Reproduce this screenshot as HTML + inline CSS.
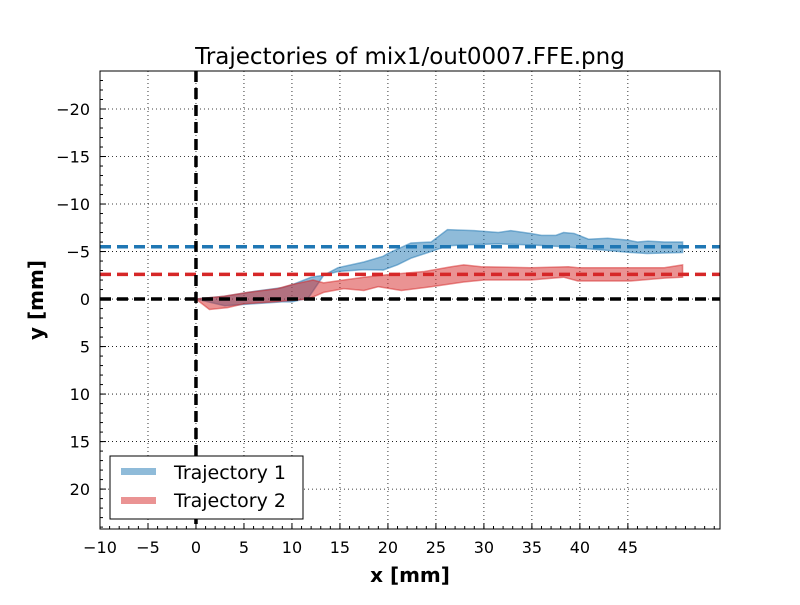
<!DOCTYPE html>
<html><head><meta charset="utf-8"><style>
body{margin:0;background:#fff;}
svg text{font-family:"DejaVu Sans","Liberation Sans",sans-serif;}
</style></head><body>
<svg id="chart" width="800" height="600" viewBox="0 0 800 600" xmlns="http://www.w3.org/2000/svg">
<rect width="800" height="600" fill="#fff"/>
<text x="410" y="64" font-size="23" text-anchor="middle">Trajectories of mix1/out0007.FFE.png</text>
<g id="grid"></g>
<g id="bands"></g>
<g id="refs"></g>
<rect x="100" y="71" width="620" height="458" fill="none" stroke="#000" stroke-width="1"/>
<g id="ticks"></g>
<text x="410" y="582" font-size="20" font-weight="bold" text-anchor="middle">x [mm]</text>
<text transform="translate(43,300) rotate(-90)" font-size="20" font-weight="bold" text-anchor="middle">y [mm]</text>
<g>
<rect x="110" y="456" width="193" height="63" fill="#fff" stroke="#000" stroke-width="1"/>
<rect x="121" y="468" width="35" height="7" fill="#1f77b4" opacity="0.5"/>
<text x="174" y="479" font-size="19">Trajectory 1</text>
<rect x="121" y="497" width="35" height="7" fill="#d62728" opacity="0.5"/>
<text x="174" y="507" font-size="19">Trajectory 2</text>
</g>
</svg>
<script>
const xMajorTicks=[-10,-5,0,5,10,15,20,25,30,35,40,45];
const yMajorTicks=[-20,-15,-10,-5,0,5,10,15,20];
const t1X=[0,3,6,9,10,12,13.3,14.8,17.5,19.5,20,22.4,24.5,26.2,29,31.5,32.8,34.9,36,37.5,38.3,39.4,40.9,42.9,45,46,47.1,48.8,50.7];
const t1Top=[0,-0.3,-0.8,-1.2,-1.5,-2.3,-2.5,-3.3,-3.9,-4.5,-4.8,-5.9,-6.0,-7.3,-7.2,-7.0,-7.2,-6.9,-6.7,-6.7,-7.0,-6.9,-6.3,-6.4,-6.2,-6.0,-6.1,-6.0,-6.0];
const t1BotX=[0,3,6,9,10,11.7,13.3,14.8,17.5,19.5,21,22.4,24.5,26.2,27.9,31.5,34.9,38.3,41.9,45.3,47,50.7];
const t1Bot=[0,0.7,0.5,0.3,0.3,-0.1,-2.5,-2.9,-3.1,-3.05,-3.6,-4.3,-5.0,-5.6,-5.7,-5.8,-5.7,-5.5,-5.2,-4.9,-4.8,-4.9];
const t2X=[0,2.9,5.4,8.5,9.9,12.2,13.3,15.4,17.5,20.3,23.8,26.6,27.9,29.7,34.9,38.8,39.8,45.3,48.8,50.7];
const t2Top=[0,-0.3,-0.7,-1.1,-1.5,-2.0,-1.7,-2.0,-2.3,-2.6,-2.9,-3.4,-3.6,-3.4,-3.3,-3.4,-3.3,-3.3,-3.3,-3.6];
const t2BotX=[0,1.4,3.3,5,8.1,11.7,13.3,15.4,17.5,19,21.4,24.5,27.9,30,34.9,38.3,39.8,45.3,48.8,50.7];
const t2Bot=[0,1.1,0.9,0.5,0.3,0,-0.7,-1.1,-0.9,-1.3,-0.9,-1.3,-1.8,-2.0,-2.0,-2.3,-1.9,-1.9,-2.2,-2.3];
const refY=[-5.5,-2.6,0];
const refColors=['#1f77b4','#d62728','#000'];
const refX=[0];

const X0=100,X1=720,Y0=71,Y1=529,xmin=-10,xmax=54.6,ymin=-24,ymax=24.2;
const sx=v=>X0+(v-xmin)/(xmax-xmin)*(X1-X0);
const sy=v=>Y0+(v-ymin)/(ymax-ymin)*(Y1-Y0);
const NS='http://www.w3.org/2000/svg';
function mk(tag,attrs,parent){const e=document.createElementNS(NS,tag);for(const k in attrs)e.setAttribute(k,attrs[k]);parent.appendChild(e);return e;}
const grid=document.getElementById('grid'),ticks=document.getElementById('ticks'),bands=document.getElementById('bands'),refs=document.getElementById('refs');

xMajorTicks.forEach(v=>{
  const g=mk('line',{x1:sx(v),x2:sx(v),y1:Y0,y2:Y1,stroke:'#000','stroke-width':0.8,'stroke-dasharray':'1,3'},grid);
  
  
  const t=mk('line',{x1:sx(v),x2:sx(v),y1:Y1,y2:Y1-6,stroke:'#000','stroke-width':1},ticks);
  
  
  const l=mk('text',{x:sx(v),y:553,'font-size':16,'text-anchor':'middle'},ticks);
  l.textContent=String(v).replace('-','\u2212');
  
  
});
for(let v=-10;v<=54;v++){
  const t=mk('line',{x1:sx(v),x2:sx(v),y1:Y1,y2:Y1-3,stroke:'#000','stroke-width':1},ticks);
  
  
}
yMajorTicks.forEach(v=>{
  const g=mk('line',{x1:X0,x2:X1,y1:sy(v),y2:sy(v),stroke:'#000','stroke-width':0.8,'stroke-dasharray':'1,3'},grid);
  
  
  const t=mk('line',{x1:X0,x2:X0+6,y1:sy(v),y2:sy(v),stroke:'#000','stroke-width':1},ticks);
  
  
  const l=mk('text',{x:90,y:sy(v)+6,'font-size':16,'text-anchor':'end'},ticks);
  l.textContent=String(v).replace('-','\u2212');
  
  
});
for(let v=-24;v<=24;v++){
  const t=mk('line',{x1:X0,x2:X0+3,y1:sy(v),y2:sy(v),stroke:'#000','stroke-width':1},ticks);
  
  
}
function band(xt,top,xb,bot,color,name){
  let d='M'+xt.map((x,i)=>sx(x)+','+sy(top[i])).join(' L');
  for(let i=xb.length-1;i>=0;i--) d+=' L'+sx(xb[i])+','+sy(bot[i]);
  const p=mk('path',{d:d+'Z',fill:color,'fill-opacity':0.5,stroke:color,'stroke-opacity':0.5,'stroke-width':1.5},bands);
  
  
}
band(t1X,t1Top,t1BotX,t1Bot,'#1f77b4','trajectory-1-band');
band(t2X,t2Top,t2BotX,t2Bot,'#d62728','trajectory-2-band');
refY.forEach((v,i)=>{
  const l=mk('line',{x1:X0,x2:X1,y1:sy(v),y2:sy(v),stroke:refColors[i],'stroke-width':3.5,'stroke-dasharray':'11,6'},refs);
  
  
});
refX.forEach(v=>{
  const l=mk('line',{x1:sx(v),x2:sx(v),y1:Y0,y2:Y1,stroke:'#000','stroke-width':3.5,'stroke-dasharray':'11,6'},refs);
  
  
});
</script>
</body></html>
